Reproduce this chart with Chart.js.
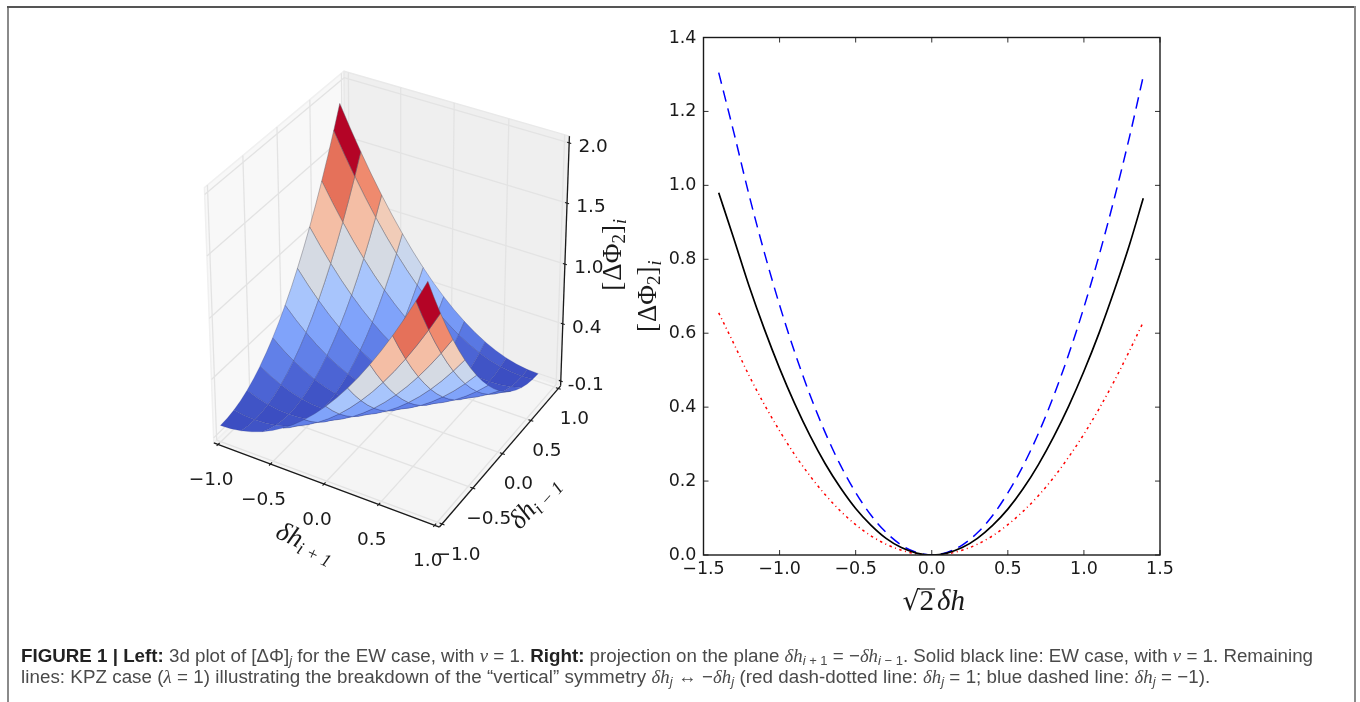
<!DOCTYPE html>
<html><head><meta charset="utf-8">
<style>
html,body{margin:0;padding:0;background:#fff;width:1360px;height:702px;overflow:hidden}
#page{position:relative;width:1360px;height:702px;filter:blur(0.45px)}
.frame{position:absolute;background:#8a8a8a}
canvas{position:absolute}
.cap{position:absolute;left:21px;white-space:nowrap;font:18.75px "Liberation Sans",sans-serif;color:#4a4a4a;line-height:20px}
.cap b{color:#222}
.cap i.m{font-family:"Liberation Serif",serif}
.cap sub{font-size:13px;line-height:0;vertical-align:-3px}
</style></head><body><div id="page">
<div class="frame" style="left:7px;top:6px;width:2px;height:696px"></div>
<div class="frame" style="left:7px;top:6px;width:1348px;height:2px;background:#555"></div>
<div class="frame" style="left:1354px;top:6px;width:2px;height:696px"></div>
<canvas id="surface" width="490" height="530" style="left:150px;top:60px"></canvas>
<canvas id="curves" width="560" height="620" style="left:630px;top:20px"></canvas>
<div class="cap" id="c1" style="top:646px"><b>FIGURE 1 | Left:</b> 3d plot of [ΔΦ]<sub><i>j</i></sub> for the EW case, with <i class="m">ν</i> = 1. <b>Right:</b> projection on the plane <i class="m">δh</i><sub><i>i</i> + 1</sub> = −<i class="m">δh</i><sub><i>i</i> − 1</sub>. Solid black line: EW case, with <i class="m">ν</i> = 1. Remaining</div>
<div class="cap" id="c2" style="top:667px;letter-spacing:.05px">lines: KPZ case (<i class="m">λ</i> = 1) illustrating the breakdown of the “vertical” symmetry <i class="m">δh</i><sub><i>j</i></sub> ↔ −<i class="m">δh</i><sub><i>j</i></sub> (red dash-dotted line: <i class="m">δh</i><sub><i>j</i></sub> = 1; blue dashed line: <i class="m">δh</i><sub><i>j</i></sub> = −1).</div>
</div>
<script src="https://cdn.jsdelivr.net/npm/chart.js@4/dist/chart.umd.js"></script>
<script>
// ---------- right panel data ----------
const curveX      = [-1.4,-1.3,-1.2,-1.1,-1.0,-0.9,-0.8,-0.7,-0.6,-0.5,-0.4,-0.3,-0.2,-0.1,-0.05,0,0.05,0.1,0.2,0.3,0.4,0.5,0.6,0.7,0.8,0.9,1.0,1.1,1.2,1.3,1.39];
const ewValues    = [0.98,0.855,0.727,0.611,0.505,0.409,0.323,0.247,0.182,0.126,0.081,0.045,0.020,0.005,0.001,0,0.001,0.005,0.020,0.045,0.080,0.124,0.179,0.244,0.319,0.403,0.497,0.601,0.716,0.840,0.965];
const kpzMinusOne = [1.305,1.142,0.973,0.818,0.676,0.548,0.433,0.331,0.243,0.169,0.108,0.061,0.027,0.007,0.002,0,0.002,0.007,0.027,0.060,0.107,0.168,0.241,0.328,0.429,0.543,0.670,0.811,0.965,1.132,1.295];
const kpzPlusOne  = [0.655,0.571,0.485,0.407,0.336,0.271,0.214,0.163,0.119,0.082,0.052,0.029,0.013,0.003,0.001,0,0.001,0.003,0.013,0.029,0.052,0.082,0.118,0.160,0.209,0.265,0.327,0.396,0.471,0.553,0.63];
const curveXTicks = [-1.5,-1.0,-0.5,0,0.5,1.0,1.5];
const curveYTicks = [0,0.2,0.4,0.6,0.8,1.0,1.2,1.4];

// ---------- left panel data ----------
const surfaceX = [-1,-0.9,-0.8,-0.7,-0.6,-0.5,-0.4,-0.3,-0.2,-0.1,0,0.1,0.2,0.3,0.4,0.5,0.6,0.7,0.8,0.9];
const surfaceY = [-1,-0.9,-0.8,-0.7,-0.6,-0.5,-0.4,-0.3,-0.2,-0.1,0,0.1,0.2,0.3,0.4,0.5,0.6,0.7,0.8,0.9];
const surfaceZ = [
 [0,.005,.02,.045,.08,.125,.18,.245,.32,.405,.5,.605,.72,.845,.98,1.125,1.28,1.445,1.62,1.805],
 [.005,0,.005,.02,.045,.08,.125,.18,.245,.32,.405,.5,.605,.72,.845,.98,1.125,1.28,1.445,1.62],
 [.02,.005,0,.005,.02,.045,.08,.125,.18,.245,.32,.405,.5,.605,.72,.845,.98,1.125,1.28,1.445],
 [.045,.02,.005,0,.005,.02,.045,.08,.125,.18,.245,.32,.405,.5,.605,.72,.845,.98,1.125,1.28],
 [.08,.045,.02,.005,0,.005,.02,.045,.08,.125,.18,.245,.32,.405,.5,.605,.72,.845,.98,1.125],
 [.125,.08,.045,.02,.005,0,.005,.02,.045,.08,.125,.18,.245,.32,.405,.5,.605,.72,.845,.98],
 [.18,.125,.08,.045,.02,.005,0,.005,.02,.045,.08,.125,.18,.245,.32,.405,.5,.605,.72,.845],
 [.245,.18,.125,.08,.045,.02,.005,0,.005,.02,.045,.08,.125,.18,.245,.32,.405,.5,.605,.72],
 [.32,.245,.18,.125,.08,.045,.02,.005,0,.005,.02,.045,.08,.125,.18,.245,.32,.405,.5,.605],
 [.405,.32,.245,.18,.125,.08,.045,.02,.005,0,.005,.02,.045,.08,.125,.18,.245,.32,.405,.5],
 [.5,.405,.32,.245,.18,.125,.08,.045,.02,.005,0,.005,.02,.045,.08,.125,.18,.245,.32,.405],
 [.605,.5,.405,.32,.245,.18,.125,.08,.045,.02,.005,0,.005,.02,.045,.08,.125,.18,.245,.32],
 [.72,.605,.5,.405,.32,.245,.18,.125,.08,.045,.02,.005,0,.005,.02,.045,.08,.125,.18,.245],
 [.845,.72,.605,.5,.405,.32,.245,.18,.125,.08,.045,.02,.005,0,.005,.02,.045,.08,.125,.18],
 [.98,.845,.72,.605,.5,.405,.32,.245,.18,.125,.08,.045,.02,.005,0,.005,.02,.045,.08,.125],
 [1.125,.98,.845,.72,.605,.5,.405,.32,.245,.18,.125,.08,.045,.02,.005,0,.005,.02,.045,.08],
 [1.28,1.125,.98,.845,.72,.605,.5,.405,.32,.245,.18,.125,.08,.045,.02,.005,0,.005,.02,.045],
 [1.445,1.28,1.125,.98,.845,.72,.605,.5,.405,.32,.245,.18,.125,.08,.045,.02,.005,0,.005,.02],
 [1.62,1.445,1.28,1.125,.98,.845,.72,.605,.5,.405,.32,.245,.18,.125,.08,.045,.02,.005,0,.005],
 [1.805,1.62,1.445,1.28,1.125,.98,.845,.72,.605,.5,.405,.32,.245,.18,.125,.08,.045,.02,.005,0]
];
const meshStops    = [0,2,4,6,8,10,12,14,16,18,19];
const xyTicks      = [-1,-0.5,0,0.5,1];
const xyTickLabels = ['−1.0','−0.5','0.0','0.5','1.0'];
const zTicks       = [-0.1,0.41,0.93,1.45,1.95];
const zTickLabels  = ['-0.1','0.4','1.0','1.5','2.0'];

// ---------- coolwarm colour map ----------
const coolwarm = ['#3b4cc0','#5977e3','#7b9ff9','#9ebeff','#c0d4f5','#dddcdc','#f2cbb7','#f7ac8e','#ee8468','#d65244','#b40426'];
function hex(c){return [1,3,5].map(i=>parseInt(c.substr(i,2),16));}
function cmap(t){
  t=Math.max(0,Math.min(1,t))*10; const i=Math.min(9,Math.floor(t)),f=t-i;
  const a=hex(coolwarm[i]),b=hex(coolwarm[i+1]);
  return 'rgb('+a.map((v,k)=>Math.round(v+(b[k]-v)*f)).join(',')+')';
}

// ---------- 3D view: elevation 30, azimuth -60, camera distance 10 ----------
const el=30*Math.PI/180, az=-60*Math.PI/180, DIST=10;
const N=[Math.cos(el)*Math.cos(az),Math.cos(el)*Math.sin(az),Math.sin(el)];
const nrm=Math.hypot(N[0],N[1]);
const U=[-N[1]/nrm,N[0]/nrm,0];
const V=[N[1]*U[2]-N[2]*U[1],N[2]*U[0]-N[0]*U[2],N[0]*U[1]-N[1]*U[0]];
const Z0=-0.1,Z1=2.0,XYM=1/24,ZM=(Z1-Z0)/48;
const dot=(a,b)=>a[0]*b[0]+a[1]*b[1]+a[2]*b[2];
function rel(x,y,z){return [(x+1)/2-0.5,(y+1)/2-0.5,(z-Z0)/(Z1-Z0)-0.5];}
function project(x,y,z){
  const p=rel(x,y,z),w=dot(N,p),f=1/(1-w/DIST);
  return {x:dot(U,p)*f,y:dot(V,p)*f};
}
const depth=(x,y,z)=>dot(N,rel(x,y,z));
const L=1+XYM, ZL=Z0-ZM, ZH=2.005;

const S=[];      // draw list, far to near
function poly(label,pts,fillc,line,w){
  S.push({label,data:pts.map(p=>project(p[0],p[1],p[2])),showLine:true,pointRadius:0,pointHoverRadius:0,tension:0,
    fill:fillc?'shape':false,backgroundColor:fillc||'transparent',borderColor:line||'transparent',borderWidth:w||0,borderJoinStyle:'round'});
}
// panes
poly('pane x',[[-L,-L,ZL],[-L,L,ZL],[-L,L,ZH],[-L,-L,ZH],[-L,-L,ZL]],'#f8f8f8','#f0f0f0',1.5);
poly('pane y',[[-L,L,ZL],[L,L,ZL],[L,L,ZH],[-L,L,ZH],[-L,L,ZL]],'#efefef','#e9e9e9',1.5);
poly('pane z',[[-L,-L,ZL],[L,-L,ZL],[L,L,ZL],[-L,L,ZL],[-L,-L,ZL]],'#f5f5f5','#f0f0f0',1.5);
// grid
const GC='#e3e3e3';
xyTicks.forEach(t=>{
  poly('grid x',[[t,-L,ZL],[t,L,ZL],[t,L,ZH]],null,GC,1.3);
  poly('grid y',[[L,t,ZL],[-L,t,ZL],[-L,t,ZH]],null,GC,1.3);
});
zTicks.forEach(t=>poly('grid z',[[-L,-L,t],[-L,L,t],[L,L,t]],null,GC,1.3));
// axes
poly('axis x',[[-L,-L,ZL],[L,-L,ZL]],null,'#1a1a1a',1.3);
poly('axis y',[[L,-L,ZL],[L,L,ZL]],null,'#1a1a1a',1.3);
poly('axis z',[[L,L,ZL],[L,L,ZH]],null,'#1a1a1a',1.3);
xyTicks.forEach(t=>{
  poly('tick x',[[t,-L-0.022,ZL],[t,-L+0.022,ZL]],null,'#1a1a1a',1.1);
  poly('tick y',[[L-0.022,t,ZL],[L+0.022,t,ZL]],null,'#1a1a1a',1.1);
});
zTicks.forEach(t=>poly('tick z',[[L-0.018,L,t],[L+0.018,L,t]],null,'#1a1a1a',1.1));
// surface cells: each cell's outline runs through every grid node on its perimeter
const cells=[];
let maxAvg=0;
for(let a=0;a<meshStops.length-1;a++)for(let b=0;b<meshStops.length-1;b++){
  const i0=meshStops[a],i1=meshStops[a+1],j0=meshStops[b],j1=meshStops[b+1],c=[];
  const node=(i,j)=>c.push([surfaceX[j],surfaceY[i],surfaceZ[i][j]]);
  for(let j=j0;j<j1;j++)node(i0,j);
  for(let i=i0;i<i1;i++)node(i,j1);
  for(let j=j1;j>j0;j--)node(i1,j);
  for(let i=i1;i>i0;i--)node(i,j0);
  const avg=c.reduce((s,p)=>s+p[2],0)/c.length;
  maxAvg=Math.max(maxAvg,avg);
  cells.push({c,avg,d:c.reduce((s,p)=>s+depth(p[0],p[1],p[2]),0)/c.length,a,b});
}
cells.sort((p,q)=>p.d-q.d);
cells.forEach(k=>{
  const r=k.avg/maxAvg;
  const edge=r>0.3?'rgba(95,95,105,0.55)':(r>0.1?'rgba(50,60,120,0.4)':'rgba(40,50,130,0.22)');
  poly('cell '+k.a+','+k.b,[...k.c,k.c[0]],cmap(r),edge,0.8);
});
S.forEach((d,i)=>d.order=S.length-i);

// ---------- helpers for mixed-size math text ----------
const MF='"Liberation Serif",serif';
function runs(ctx,list,cx,cy,rot){
  ctx.save();ctx.translate(cx,cy);ctx.rotate(rot||0);ctx.textBaseline='alphabetic';ctx.textAlign='left';
  let w=0;list.forEach(r=>{ctx.font=r.f;w+=ctx.measureText(r.t).width+(r.g||0);});
  let x=-w/2;
  list.forEach(r=>{ctx.font=r.f;ctx.fillStyle='#1a1a1a';ctx.fillText(r.t,x,r.dy||0);
    const m=ctx.measureText(r.t).width;
    if(r.over!==undefined){ctx.strokeStyle='#1a1a1a';ctx.lineWidth=1.2;ctx.beginPath();ctx.moveTo(x-1,r.over);ctx.lineTo(x+m+1,r.over);ctx.stroke();}
    x+=m+(r.g||0);});
  ctx.restore();
}
const phiLabel=[{t:'[',f:'27px '+MF,g:1},{t:'ΔΦ',f:'27px '+MF},{t:'2',f:'19px '+MF,dy:4},{t:']',f:'27px '+MF,g:1},{t:'i',f:'italic 18px '+MF,dy:5}];
const TF='18.5px "DejaVu Sans",sans-serif';

// ---------- left chart ----------
const PX0=390,PXS=250,PY0=288.6,PYS=285,CL=150,CT=60,CW=490,CH=530;
new Chart(document.getElementById('surface'),{
  type:'scatter',
  data:{datasets:S},
  options:{responsive:false,animation:false,events:[],layout:{padding:0},
    plugins:{legend:{display:false},tooltip:{enabled:false}},
    scales:{
      x:{type:'linear',display:false,min:(CL-PX0)/PXS,max:(CL+CW-PX0)/PXS},
      y:{type:'linear',display:false,min:(PY0-CT-CH)/PYS,max:(PY0-CT)/PYS}
    }},
  plugins:[{id:'labels3d',afterDraw(ch){
    const c=ch.ctx,sx=ch.scales.x,sy=ch.scales.y;
    const at=(x,y,z)=>{const p=project(x,y,z);return [sx.getPixelForValue(p.x),sy.getPixelForValue(p.y)];};
    c.save();c.font=TF;c.fillStyle='#1a1a1a';c.textAlign='center';c.textBaseline='middle';
    xyTicks.forEach((t,i)=>{
      const a=at(t,-L,ZL);c.fillText(xyTickLabels[i],a[0]-7,a[1]+36);
      const b=at(L,t,ZL);c.fillText(xyTickLabels[i],b[0]+16,b[1]+31);
    });
    zTicks.forEach((t,i)=>{const a=at(L,L,t);c.fillText(zTickLabels[i],a[0]+(i==0?25:24),a[1]+4);});
    c.restore();
    const q=at(0,-L,ZL);
    runs(c,[{t:'δh',f:'italic 27px '+MF},{t:'i + 1',f:'italic 18px '+MF,dy:5}],q[0]-22,q[1]+66,25*Math.PI/180);
    const r=at(L,0,ZL);
    runs(c,[{t:'δh',f:'italic 27px '+MF},{t:'i − 1',f:'italic 18px '+MF,dy:5}],r[0]+38,r[1]+54,-48*Math.PI/180);
    const z=at(L,L,0.95);
    runs(c,phiLabel,z[0]+56,z[1]-7,-Math.PI/2);
  }}]
});

// ---------- right chart ----------
new Chart(document.getElementById('curves'),{
  type:'scatter',
  data:{datasets:[
    {label:'EW case',data:curveX.map((x,i)=>({x,y:ewValues[i]})),showLine:true,pointRadius:0,borderColor:'#000',borderWidth:1.7,tension:0.4,cubicInterpolationMode:'monotone'},
    {label:'KPZ δh_j = −1',data:curveX.map((x,i)=>({x,y:kpzMinusOne[i]})),showLine:true,pointRadius:0,borderColor:'#0000ff',borderWidth:1.5,borderDash:[11.5,7],cubicInterpolationMode:'monotone'},
    {label:'KPZ δh_j = 1',data:curveX.map((x,i)=>({x,y:kpzPlusOne[i]})),showLine:true,pointRadius:0,borderColor:'#ff0000',borderWidth:1.5,borderDash:[2.5,3.5,1,3.5],cubicInterpolationMode:'monotone'}
  ]},
  options:{responsive:false,animation:false,events:[],
    layout:{padding:{left:0,top:16,right:30,bottom:0}},
    plugins:{legend:{display:false},tooltip:{enabled:false}},
    scales:{
      x:{type:'linear',min:-1.5,max:1.5,grid:{display:false,tickLength:0},border:{display:false},
        afterBuildTicks(s){s.ticks=curveXTicks.map(v=>({value:v}));},
        afterFit(s){s.height=85;},
        ticks:{color:'#1a1a1a',font:{family:'"DejaVu Sans"',size:17.5},padding:4,maxRotation:0,autoSkip:false,
          callback:v=>v.toFixed(1).replace('-','−')}},
      y:{type:'linear',min:0,max:1.4,grid:{display:false,tickLength:0},border:{display:false},
        afterBuildTicks(s){s.ticks=curveYTicks.map(v=>({value:v}));},
        afterFit(s){s.width=73.5;},
        ticks:{color:'#1a1a1a',font:{family:'"DejaVu Sans"',size:17.5},padding:7,labelOffset:0.5,autoSkip:false,
          callback:v=>v.toFixed(1)}}
    }},
  plugins:[{id:'box',afterDatasetsDraw(ch){
    const c=ch.ctx,a=ch.chartArea,sx=ch.scales.x,sy=ch.scales.y;
    c.save();c.strokeStyle='#1a1a1a';c.lineWidth=1.4;c.strokeRect(a.left,a.top,a.right-a.left,a.bottom-a.top);
    c.lineWidth=0.9;c.beginPath();
    curveXTicks.forEach(v=>{const p=sx.getPixelForValue(v);c.moveTo(p,a.bottom);c.lineTo(p,a.bottom-5);c.moveTo(p,a.top);c.lineTo(p,a.top+5);});
    curveYTicks.forEach(v=>{const p=sy.getPixelForValue(v);c.moveTo(a.left,p);c.lineTo(a.left+5,p);c.moveTo(a.right,p);c.lineTo(a.right-5,p);});
    c.stroke();c.restore();
    const cx=(a.left+a.right)/2;
    runs(c,[{t:'√',f:'27px "DejaVu Sans"'},{t:'2',f:'29px '+MF,over:-21,g:3},{t:'δh',f:'italic 29px '+MF}],cx+2,a.bottom+55);
    runs(c,phiLabel,a.left-48,(a.top+a.bottom)/2,-Math.PI/2);
  }}]
});
</script></body></html>
